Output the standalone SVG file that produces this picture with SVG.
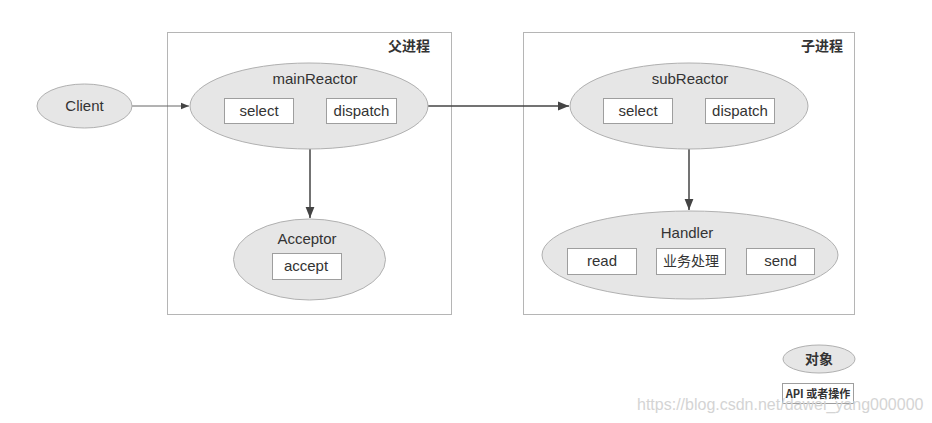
<svg xmlns="http://www.w3.org/2000/svg" width="932" height="423" viewBox="0 0 932 423">
<defs>
<style>
.bg{fill:#ffffff}
.frame{fill:none;stroke:#b5b5b5;stroke-width:1}
.ell{fill:#e6e6e6;stroke:#b0b0b0;stroke-width:1}
.box{fill:#ffffff;stroke:#9e9e9e;stroke-width:1}
.t{font-family:"Liberation Sans","Noto Sans CJK SC",sans-serif;fill:#333333;text-anchor:middle}
.title{font-size:15px}
.lbl{font-size:15px}
.cjk{font-family:"Noto Sans CJK SC","Liberation Sans",sans-serif;font-size:14px;font-weight:bold;fill:#333333}
.edge{fill:none;stroke:#444444;stroke-width:1.5}
.edgel{fill:none;stroke:#666666;stroke-width:1}
.wm{font-family:"Liberation Sans",sans-serif;font-size:16px;fill:#d4d4d4}
</style>
<marker id="ah" viewBox="0 0 10 10" refX="10" refY="5" markerWidth="8" markerHeight="8" markerUnits="userSpaceOnUse" orient="auto">
<path d="M0,1 L10,5 L0,9 z" fill="#444444"/>
</marker>
<marker id="ahb" viewBox="0 0 10 10" refX="10" refY="5" markerWidth="11" markerHeight="11" markerUnits="userSpaceOnUse" orient="auto">
<path d="M0,1 L10,5 L0,9 z" fill="#444444"/>
</marker>
</defs>
<rect class="bg" x="0" y="0" width="932" height="423"/>

<g id="parent-process">
<rect class="frame" x="167.5" y="32.5" width="284" height="282"/>
<text class="cjk" x="409" y="51" text-anchor="middle">父进程</text>
</g>
<g id="child-process">
<rect class="frame" x="523.5" y="32.5" width="331" height="282"/>
<text class="cjk" x="822" y="51" text-anchor="middle">子进程</text>
</g>

<g id="connectors">
<line class="edgel" x1="132" y1="106" x2="189" y2="106" marker-end="url(#ah)"/>
<line class="edge" x1="428" y1="106" x2="569" y2="106" marker-end="url(#ahb)"/>
<line class="edge" x1="310" y1="149" x2="310" y2="218" marker-end="url(#ahb)"/>
<line class="edge" x1="689" y1="148" x2="689" y2="210" marker-end="url(#ahb)"/>
<line class="edgel" x1="637" y1="261" x2="655" y2="261" marker-end="url(#ah)"/>
<line class="edgel" x1="725" y1="261" x2="745" y2="261" marker-end="url(#ah)"/>
</g>

<g id="client">
<ellipse class="ell" cx="84.5" cy="106" rx="47.5" ry="22"/>
<text class="t lbl" x="84.5" y="111">Client</text>
</g>

<g id="mainReactor">
<ellipse class="ell" cx="309" cy="106" rx="119" ry="43"/>
<text class="t title" x="315" y="84">mainReactor</text>
<rect class="box" x="224.5" y="98.5" width="69" height="25"/>
<text class="t lbl" x="259" y="116">select</text>
<rect class="box" x="326.5" y="98.5" width="70" height="25"/>
<text class="t lbl" x="361.5" y="116">dispatch</text>
</g>

<g id="acceptor">
<ellipse class="ell" cx="309.5" cy="259.5" rx="76" ry="40.5"/>
<text class="t title" x="307" y="244">Acceptor</text>
<rect class="box" x="272.5" y="253.5" width="69" height="26"/>
<text class="t lbl" x="306" y="271">accept</text>
</g>

<g id="subReactor">
<ellipse class="ell" cx="689" cy="106" rx="119" ry="43"/>
<text class="t title" x="690" y="84">subReactor</text>
<rect class="box" x="603.5" y="98.5" width="69" height="25"/>
<text class="t lbl" x="638" y="116">select</text>
<rect class="box" x="705.5" y="98.5" width="69" height="25"/>
<text class="t lbl" x="740" y="116">dispatch</text>
</g>

<g id="handler">
<ellipse class="ell" cx="690" cy="255" rx="148" ry="44"/>
<text class="t title" x="687" y="238">Handler</text>
<rect class="box" x="567.5" y="248.5" width="69" height="26"/>
<text class="t lbl" x="602" y="266">read</text>
<rect class="box" x="656.5" y="248.5" width="69" height="26"/>
<text class="t lbl" x="691" y="266" style="font-family:'Noto Sans CJK SC',sans-serif;font-size:14px">业务处理</text>
<rect class="box" x="746.5" y="248.5" width="68" height="26"/>
<text class="t lbl" x="780.5" y="266">send</text>
</g>

<g id="legend-object">
<ellipse class="ell" cx="819" cy="359" rx="36" ry="14"/>
<text class="cjk" x="819" y="364" text-anchor="middle">对象</text>
</g>
<g id="legend-api">
<rect class="box" x="782.5" y="383.5" width="71" height="20"/>
<text class="cjk" x="818" y="398" text-anchor="middle" style="font-size:11px">API 或者操作</text>
</g>

<text class="wm" x="637" y="410">https://blog.csdn.net/dawei_yang000000</text>
</svg>
